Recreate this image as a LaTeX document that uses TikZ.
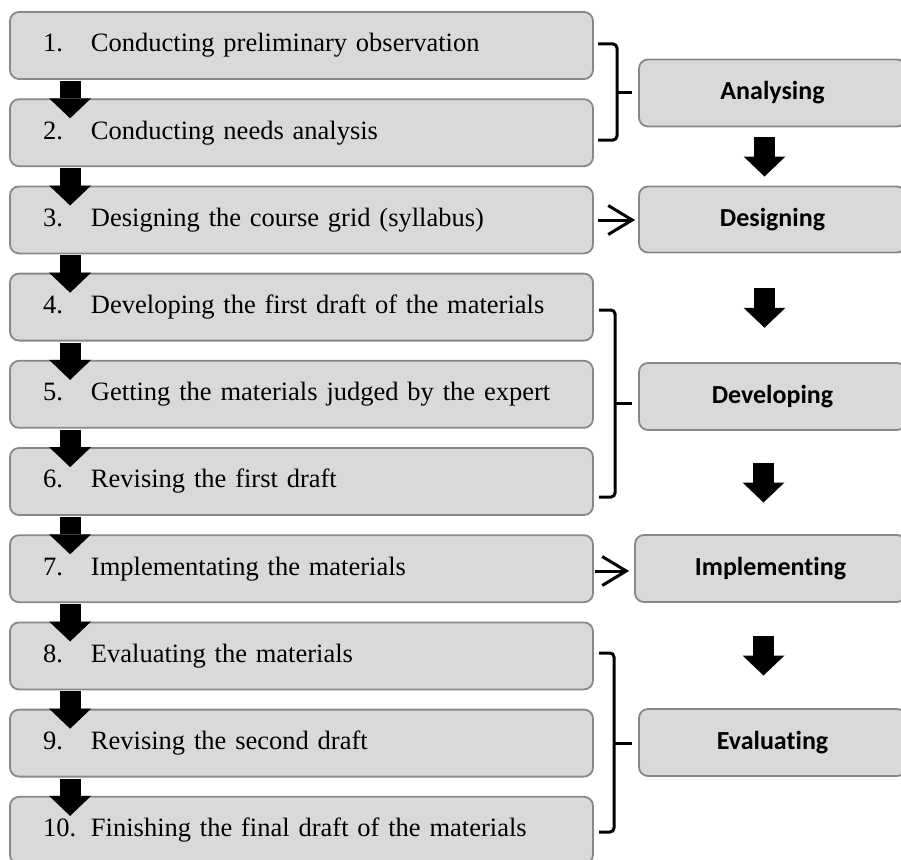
\documentclass[tikz,border=0pt]{standalone}
\usepackage{fontspec}
\setmainfont{Liberation Serif}
\newfontfamily\lblfont[Ligatures=NoCommon]{Carlito}
\usetikzlibrary{arrows.meta,calc}
\definecolor{boxfill}{HTML}{D9D9D9}
\definecolor{boxline}{HTML}{888888}
\begin{document}
\begin{tikzpicture}[x=1pt,y=-1pt,
  lbox/.style={draw=boxline, fill=boxfill, line width=1.8pt, rounded corners=9pt,
    minimum height=67pt, inner xsep=33pt, inner ysep=0pt, text width=517pt, align=left,
    font=\fontsize{26.5}{30}\selectfont},
  rbox/.style={draw=boxline, fill=boxfill, line width=1.8pt, rounded corners=9pt,
    minimum width=267pt, minimum height=67pt, inner sep=0pt,
    font=\lblfont\bfseries\fontsize{26}{30}\selectfont},
  bigarrow/.style={line width=21pt, black, -{Triangle[length=20pt,width=42pt,line width=0pt]}},
  openarr/.style={line width=3pt, black, -{Straight Barb[length=24pt,width=29pt]}},
  brk/.style={line width=3pt, black, rounded corners=4pt},
  tick/.style={line width=3pt, black}]
\useasboundingbox (0,0) rectangle (901,859);

% left steps
\node[lbox] (b1)  at (301.5, 45.5) {\makebox[48pt][l]{1.}Conducting preliminary observation};
\node[lbox] (b2)  at (301.5,132.7) {\makebox[48pt][l]{2.}Conducting needs analysis};
\node[lbox] (b3)  at (301.5,219.9) {\makebox[48pt][l]{3.}Designing the course grid (syllabus)};
\node[lbox] (b4)  at (301.5,307.1) {\makebox[48pt][l]{4.}Developing the first draft of the materials};
\node[lbox] (b5)  at (301.5,394.3) {\makebox[48pt][l]{5.}Getting the materials judged by the expert};
\node[lbox] (b6)  at (301.5,481.5) {\makebox[48pt][l]{6.}Revising the first draft};
\node[lbox] (b7)  at (301.5,568.7) {\makebox[48pt][l]{7.}Implementating the materials};
\node[lbox] (b8)  at (301.5,655.9) {\makebox[48pt][l]{8.}Evaluating the materials};
\node[lbox] (b9)  at (301.5,743.1) {\makebox[48pt][l]{9.}Revising the second draft};
\node[lbox] (b10) at (301.5,830.3) {\makebox[48pt][l]{10.}Finishing the final draft of the materials};

% right phases
\node[rbox] (an) at (772.5, 93.0) {Analysing};
\node[rbox, minimum height=66pt] (de) at (772.5,219.5) {Designing};
\node[rbox] (dv) at (772.5,396.5) {Developing};
\node[rbox, minimum width=271pt] (im) at (770.5,568.5) {Implementing};
\node[rbox] (ev) at (772.5,742.5) {Evaluating};

% left block arrows
\foreach \a/\b in {b1/b2,b2/b3,b3/b4,b4/b5,b5/b6,b6/b7,b7/b8,b8/b9,b9/b10}{
  \draw[bigarrow] ([xshift=61pt,yshift=-1pt]\a.south west) -- ([xshift=61pt,yshift=-20pt]\b.north west);
}

% right block arrows
\foreach \a/\b in {an/de,de/dv,dv/im,im/ev}{
  \coordinate (m) at ($(\a.south)!0.5!(\b.north)$);
  \draw[bigarrow] ([xshift=-8pt,yshift=20pt]m) -- ([xshift=-8pt,yshift=-20pt]m);
}

% brackets
\draw[brk] (598,44) -| (617,140) -- (598,140);
\draw[tick] (617,92) -- (632,92);
\draw[brk] (599,310) -| (615,497) -- (599,497);
\draw[tick] (615,403) -- (632,403);
\draw[brk] (599,653) -| (614,832) -- (599,832);
\draw[tick] (614,743) -- (632,743);

% open arrows
\coordinate (d0) at (598,220);
\coordinate (i0) at (595,571);
\draw[openarr, shorten >=3pt] (d0) -- (d0 -| de.west);
\draw[openarr, shorten >=5pt] (i0) -- (i0 -| im.west);
\end{tikzpicture}
\end{document}
